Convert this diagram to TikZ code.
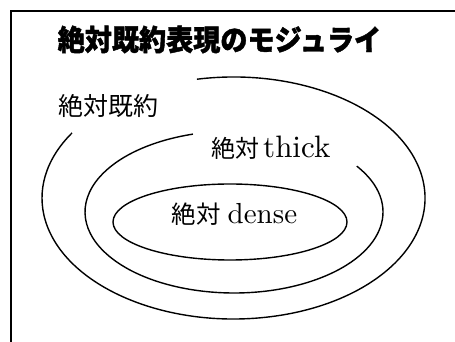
\documentclass[tikz,border=0pt]{standalone}
\usepackage{fontspec}
\newfontfamily\cjk{Noto Sans CJK JP}[BoldFeatures={FakeBold=1.5}]
\newfontfamily\lmten{lmroman10-regular.otf}
\begin{document}
\begin{tikzpicture}[x=1pt,y=1pt,
  ell/.style={line width=1.4pt},
  frame/.style={line width=1.3pt},
  lab/.style={anchor=base west, inner sep=0pt}]
\useasboundingbox (0,0) rectangle (455,342);
% frame (right and bottom edges lie outside the picture)
\coordinate (fbl) at (11,-5);
\coordinate (ftl) at (11,331);
\coordinate (ftr) at (460,331);
\draw[frame] (fbl) -- (ftl) -- (ftr);
% outer ellipse (open at top-left for its label)
\coordinate (oc) at (233.5,144);
\draw[ell] ([shift={(101:191.5 and 121)}]oc) arc[start angle=101, end angle=-212.5, x radius=191.5, y radius=121];
% middle ellipse (open at top for its label)
\coordinate (mc) at (234,130);
\draw[ell] ([shift={(34.5:149 and 81)}]mc) arc[start angle=34.5, end angle=-254, x radius=149, y radius=81];
% inner ellipse
\coordinate (ic) at (230,120);
\draw[ell] (ic) ellipse [x radius=117, y radius=38];
% labels
\node[lab, xscale=0.935, transform shape] (title) at (57.5,291.5) {\cjk\bfseries\fontsize{29}{29}\selectfont 絶対既約表現のモジュライ};
\node[lab] (l1) at (58.5,226) {\cjk\fontsize{25}{25}\selectfont 絶対既約};
\node[lab] (l2) at (211.5,184) {{\cjk\fontsize{24}{24}\selectfont 絶対}\hspace{3.5pt}{\lmten\fontsize{31}{31}\selectfont thick}};
\node[lab] (l3) at (171.5,118) {{\cjk\fontsize{24.5}{24.5}\selectfont 絶対}\hspace{7pt}{\lmten\fontsize{29}{29}\selectfont dense}};
\end{tikzpicture}
\end{document}
